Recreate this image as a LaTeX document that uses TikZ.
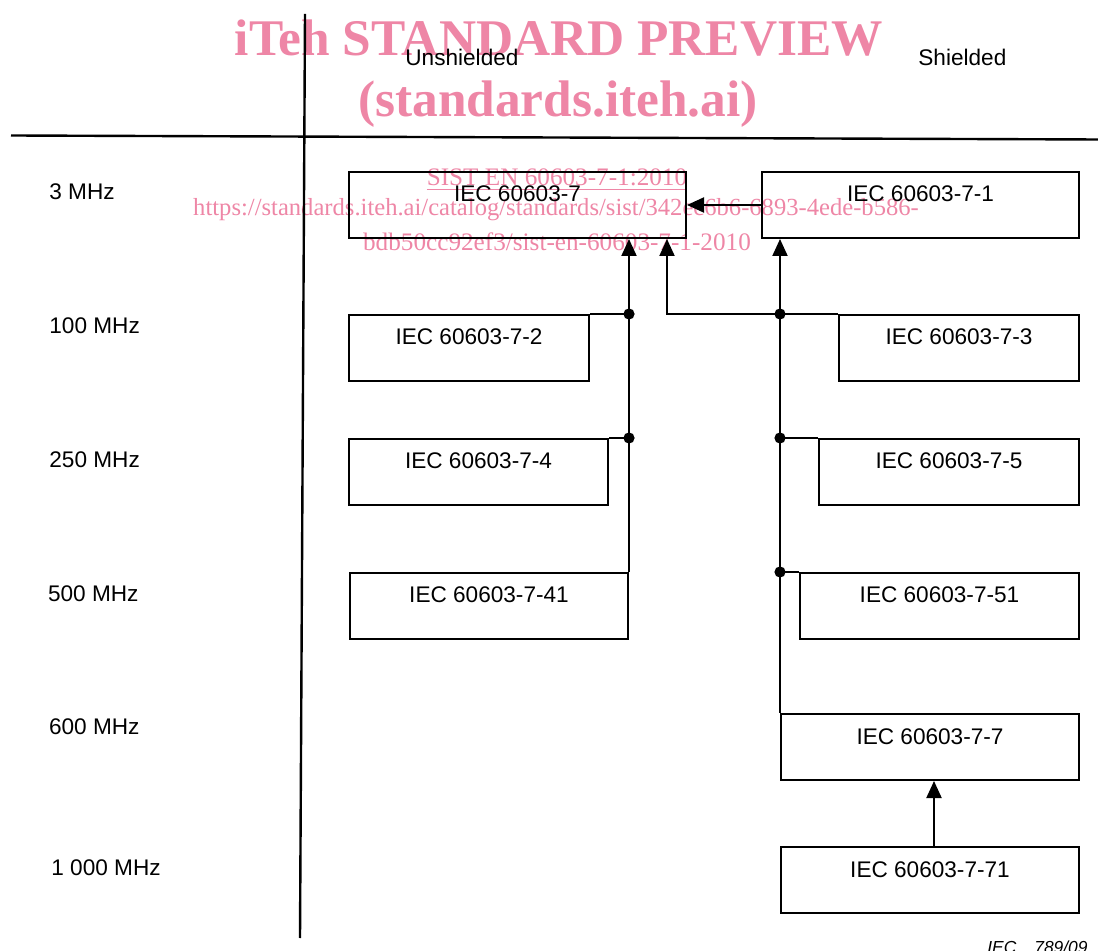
\documentclass[tikz,border=0pt]{standalone}
\usepackage{fontspec}
\setmainfont{Liberation Sans}
\newfontfamily\wmfont{Liberation Serif}
\usepackage{xcolor}
\usetikzlibrary{arrows.meta}
\usetikzlibrary{math}
\definecolor{wmpink}{RGB}{238,134,166}

\begin{document}
\begin{tikzpicture}[x=0.5pt, y=-0.5pt,
  stdbox/.style={draw, line width=1pt, inner sep=0pt, anchor=north west,
    minimum height=33pt, text height=15pt, text depth=18pt,
    font=\fontsize{11.3}{13}\selectfont},
  lbl/.style={anchor=base west, inner sep=0pt, font=\fontsize{11.3}{13}\selectfont},
  flow/.style={line width=1pt, -{Triangle[width=7.5pt,length=8.5pt]}},
  tap/.style={line width=1pt},
  wm/.style={anchor=base, inner sep=0pt, text=wmpink}
]
\tikzmath{
\W=1098;
\H=951;
}
\useasboundingbox (0,0) rectangle (\W,\H);

% watermark
\node[wm, font=\wmfont\bfseries\fontsize{25.7}{28}\selectfont] (wmA) at (559,56) {iTeh STANDARD PREVIEW};
\node[wm, font=\wmfont\bfseries\fontsize{25.7}{28}\selectfont] (wmB) at (558,117) {(standards.iteh.ai)};
\node[wm, font=\wmfont\fontsize{12.6}{14}\selectfont] (wmC) at (557,186) {\underline{SIST EN 60603-7-1:2010}};
\node[wm, font=\wmfont\fontsize{12.3}{14}\selectfont] (wmD) at (556,216) {https://standards.iteh.ai/catalog/standards/sist/342ec6b6-6893-4ede-b586-};
\node[wm, font=\wmfont\fontsize{12.6}{14}\selectfont] (wmE) at (557,251) {bdb50cc92ef3/sist-en-60603-7-1-2010};

% table rules
\coordinate (vTop) at (305,14);
\coordinate (vBot) at (300,938);
\coordinate (hL) at (11,135.5);
\coordinate (hR) at (\W,139.5);
\draw[line width=1.2pt] (vTop) -- (vBot);
\draw[line width=1.2pt] (hL) -- (hR);

\node[lbl] (hU) at (405,66) {Unshielded};
\node[lbl] (hS) at (918,66) {Shielded};

\foreach \f/\x/\y [count=\i] in {3 MHz/49/200, 100 MHz/49/333.5, 250 MHz/49/467.5,
  500 MHz/47.7/602, 600 MHz/48.7/734, 1 000 MHz/51/875}{
 \node[lbl] (f\i) at (\x,\y) {\f};
}

% boxes
\node[stdbox, minimum width=168.5pt] (b7)   at (348,171) {IEC 60603-7};
\node[stdbox, minimum width=158.5pt] (b71)  at (761,171) {IEC 60603-7-1};
\node[stdbox, minimum width=120pt]   (b72)  at (348,314) {IEC 60603-7-2};
\node[stdbox, minimum width=120pt]   (b73)  at (838,314) {IEC 60603-7-3};
\node[stdbox, minimum width=129.5pt] (b74)  at (348,438) {IEC 60603-7-4};
\node[stdbox, minimum width=130pt]   (b75)  at (818,438) {IEC 60603-7-5};
\node[stdbox, minimum width=139pt]   (b741) at (349,572) {IEC 60603-7-41};
\node[stdbox, minimum width=139.5pt] (b751) at (799,572) {IEC 60603-7-51};
\node[stdbox, minimum width=149pt]   (b77)  at (780,713) {IEC 60603-7-7};
\node[stdbox, minimum width=149pt]   (b771) at (780,846) {IEC 60603-7-71};

% junctions
\coordinate (ld1) at (b741.north east |- b72.north);
\coordinate (ld2) at (b741.north east |- b74.north);
\coordinate (rd1) at (b77.north west |- b73.north);
\coordinate (rd2) at (b77.north west |- b75.north);
\coordinate (rd3) at (b77.north west |- b751.north);
\coordinate (b7in) at ([xshift=-10pt]b7.south east);
\coordinate (b771up) at ([xshift=2pt]b771.north);

% connectors
\draw[flow] (b71.west) -- (b7.east);
\draw[flow] (b741.north east) -- (b741.north east |- b7.south);
\draw[flow] (b77.north west) -- (b77.north west |- b71.south);
\draw[flow] (rd1) -| (b7in);
\draw[flow] (b771up) -- (b771up |- b77.south);
\draw[tap] (b72.north east) -- (ld1);
\draw[tap] (b74.north east) -- (ld2);
\draw[tap] (b73.north west) -- (rd1);
\draw[tap] (b75.north west) -- (rd2);
\draw[tap] (b751.north west) -- (rd3);

\foreach \n in {ld1,ld2,rd1,rd2,rd3}{
 \fill (\n) circle(2.8pt);
}

\node[anchor=base east, inner sep=0pt, font=\fontsize{8.7}{10}\selectfont\itshape] (fig) at (1088,953.5) {IEC\hspace{9pt}789/09};

\end{tikzpicture}
\end{document}
